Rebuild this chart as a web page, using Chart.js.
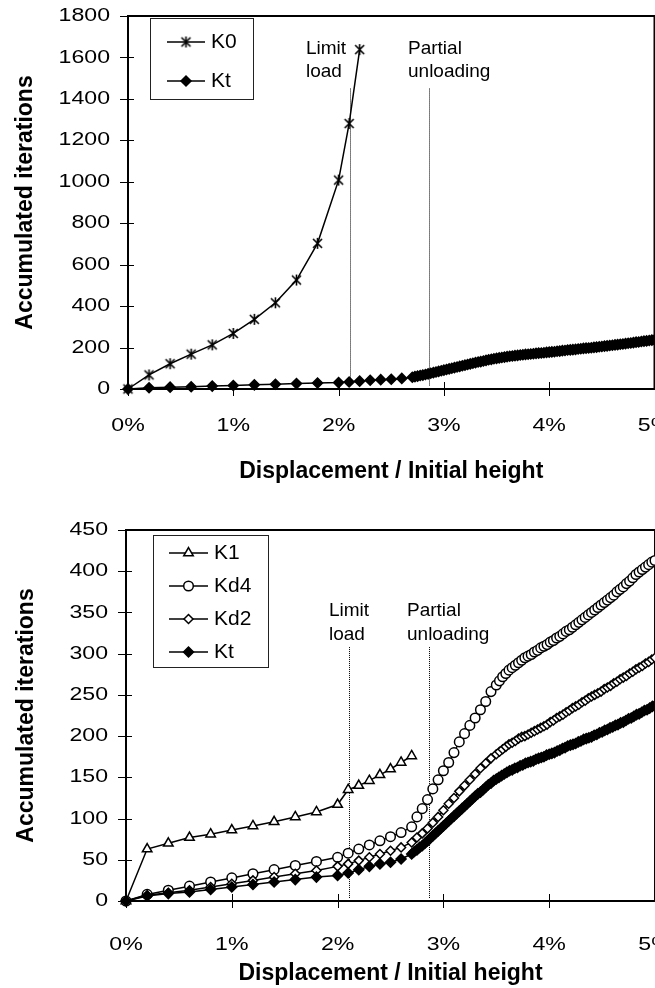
<!DOCTYPE html>
<html>
<head>
<meta charset="utf-8">
<script src="https://cdn.jsdelivr.net/npm/chart.js@4.4.1/dist/chart.umd.min.js"></script>
<style>
  html, body { margin: 0; padding: 0; background: #fff; overflow: hidden; }
  #wrap { position: relative; width: 655px; height: 988px; overflow: hidden; }
  #wrap canvas { position: absolute; left: 0; }
  #topChart { top: 0; }
  #bottomChart { top: 490px; }
</style>
</head>
<body>
<div id="wrap">
  <canvas id="topChart" width="662" height="490"></canvas>
  <canvas id="bottomChart" width="662" height="498"></canvas>
</div>
<script>
// x positions (displacement / initial height, in %)
const earlyX = [0, 0.2, 0.4, 0.6, 0.8, 1.0, 1.2, 1.4, 1.6, 1.8, 2.0, 2.1, 2.2, 2.3, 2.4, 2.5, 2.6, 2.7];
const midX = [2.75, 2.8, 2.85, 2.9, 2.95, 3.0, 3.05, 3.1, 3.15, 3.2, 3.25, 3.3, 3.35, 3.4, 3.45, 3.5];
const lateX = [3.53, 3.56, 3.59, 3.62, 3.65, 3.68, 3.71, 3.74, 3.77, 3.8,
               3.83, 3.86, 3.89, 3.92, 3.95, 3.98, 4.01, 4.04, 4.07, 4.1,
               4.13, 4.16, 4.19, 4.22, 4.25, 4.28, 4.31, 4.34, 4.37, 4.4,
               4.43, 4.46, 4.49, 4.52, 4.55, 4.58, 4.61, 4.64, 4.67, 4.7,
               4.73, 4.76, 4.79, 4.82, 4.85, 4.88, 4.91, 4.94, 4.97, 5.0];
const ktDenseX = [2.725, 2.75, 2.775, 2.8, 2.825, 2.85, 2.875, 2.9, 2.925, 2.95, 2.975, 3.0,
                  3.025, 3.05, 3.075, 3.1, 3.125, 3.15, 3.175, 3.2, 3.225, 3.25,
                  3.275, 3.3, 3.325, 3.35, 3.375, 3.4, 3.425, 3.45, 3.475, 3.5,
                  3.525, 3.55, 3.575, 3.6, 3.625, 3.65, 3.675, 3.7, 3.725, 3.75,
                  3.775, 3.8, 3.825, 3.85, 3.875, 3.9, 3.925, 3.95, 3.975, 4.0,
                  4.025, 4.05, 4.075, 4.1, 4.125, 4.15, 4.175, 4.2, 4.225, 4.25,
                  4.275, 4.3, 4.325, 4.35, 4.375, 4.4, 4.425, 4.45, 4.475, 4.5,
                  4.525, 4.55, 4.575, 4.6, 4.625, 4.65, 4.675, 4.7, 4.725, 4.75,
                  4.775, 4.8, 4.825, 4.85, 4.875, 4.9, 4.925, 4.95, 4.975, 5.0];
const k0X = [0, 0.2, 0.4, 0.6, 0.8, 1.0, 1.2, 1.4, 1.6, 1.8, 2.0, 2.1, 2.2];

// accumulated iterations
const k0Y = [0, 68, 122, 168, 213, 268, 336, 416, 526, 703, 1008, 1281, 1638];
const k1Y = [0, 63, 70, 77, 81, 86, 91, 96, 102, 108, 117, 135, 140, 146, 153, 160, 168, 176];
const kd4Y = [0, 8, 13, 18, 23, 28, 33, 38, 43, 48, 53, 58, 63, 68, 73, 78, 83, 90,
              102, 112, 123, 136, 147, 158, 168, 180, 193, 203, 213, 222, 232, 242, 254, 262,
              267, 272, 276, 280, 283, 286, 289, 292, 295, 297,
              299, 302, 304, 307, 309, 311, 314, 316, 319, 321,
              324, 327, 329, 332, 335, 338, 341, 344, 347, 350,
              353, 356, 359, 362, 365, 368, 371, 375, 378, 381,
              385, 388, 392, 396, 399, 402, 405, 408, 411, 413];
const kd2Y = [0, 7, 10, 13, 17, 21, 25, 29, 33, 37, 42, 45, 49, 53, 57, 61, 65, 71,
              77, 82, 88, 95, 102, 110, 118, 125, 133, 140, 147, 154, 161, 167, 173, 178,
              181, 184, 187, 190, 192, 194, 197, 199, 200, 202,
              204, 206, 208, 210, 212, 214, 217, 219, 222, 224,
              226, 229, 231, 234, 236, 238, 241, 243, 246, 248,
              250, 252, 254, 257, 259, 261, 264, 266, 269, 271,
              273, 276, 278, 281, 283, 285, 288, 290, 293, 295];
const ktY = [0, 6, 9, 11, 14, 17, 20, 23, 26, 29, 31, 34, 38, 42, 45, 47, 51, 57,
             60, 62, 65, 67, 70, 73, 76, 79, 82, 85, 88, 91,
             94, 97, 100, 103, 106, 109, 112, 115, 118, 121,
             124, 127, 130, 132, 135, 138, 141, 143, 146, 148,
             150, 152, 154, 156, 158, 159, 161, 162, 164, 165,
             167, 168, 169, 170, 172, 173, 174, 175, 177, 178,
             179, 180, 182, 183, 185, 186, 188, 189, 190, 191,
             193, 194, 196, 197, 198, 199, 201, 202, 204, 205,
             207, 208, 210, 211, 213, 214, 216, 217, 219, 221,
             222, 224, 226, 227, 229, 231, 232, 234, 236, 237];

// axis ticks
const xTickValues = [0, 1, 2, 3, 4, 5];
const topYTicks = [0, 200, 400, 600, 800, 1000, 1200, 1400, 1600, 1800];
const bottomYTicks = [0, 50, 100, 150, 200, 250, 300, 350, 400, 450];

// vertical markers: limit load, partial unloading
const markerX = [2.11, 2.86];

const TICK_FONT = '18.5px "Liberation Sans", Arial, sans-serif';
const TITLE_FONT = 'bold 23px "Liberation Sans", Arial, sans-serif';
const LEGEND_FONT = '21px "Liberation Sans", Arial, sans-serif';
const NOTE_FONT = '19px "Liberation Sans", Arial, sans-serif';
const TICK_STRETCH = 1.25; // tick labels in the original are drawn wide

function makeAsterisk() {
    var c = document.createElement('canvas');
    c.width = 13;
    c.height = 13;
    var g = c.getContext('2d');
    g.strokeStyle = '#000';
    g.lineWidth = 1.6;
    g.beginPath();
    g.moveTo(2, 2); g.lineTo(11, 11);
    g.moveTo(11, 2); g.lineTo(2, 11);
    g.moveTo(6.5, 1); g.lineTo(6.5, 12);
    g.stroke();
    return c;
}
const asterisk = makeAsterisk();

function series(label, xs, ys, shape, radius, fill, order) {
    return {
        label: label,
        data: xs.map(function (x, i) { return { x: x, y: ys[i] }; }),
        borderColor: '#000',
        borderWidth: 1.5,
        pointStyle: shape,
        pointRadius: radius,
        pointHoverRadius: radius,
        pointBackgroundColor: fill,
        pointBorderColor: '#000',
        pointBorderWidth: 1.5,
        tension: 0,
        clip: false,
        order: order
    };
}

function stretchText(ctx, text, x, y, align) {
    ctx.save();
    ctx.translate(x, y);
    ctx.scale(TICK_STRETCH, 1);
    ctx.textAlign = align;
    ctx.fillText(text, 0, 0);
    ctx.restore();
}

function decorPlugin(opts) {
    return {
        id: 'decor',
        beforeDatasetsDraw: function (chart) {
            var ctx = chart.ctx, a = chart.chartArea;
            var xs = chart.scales.x, ys = chart.scales.y;
            ctx.save();

            // dotted marker lines
            ctx.strokeStyle = '#000';
            ctx.lineWidth = 1;
            ctx.setLineDash([1, 1]);
            markerX.forEach(function (mx) {
                var px = Math.round(xs.getPixelForValue(mx)) + 0.5;
                ctx.beginPath();
                ctx.moveTo(px, ys.getPixelForValue(opts.markerTop));
                ctx.lineTo(px, a.bottom - 3);
                ctx.stroke();
            });
            ctx.setLineDash([]);

            // tick marks crossing the axes
            ctx.strokeStyle = '#000';
            ctx.lineWidth = 1;
            ctx.beginPath();
            xTickValues.forEach(function (v) {
                var px = Math.round(xs.getPixelForValue(v)) + 0.5;
                ctx.moveTo(px, a.bottom - 7);
                ctx.lineTo(px, a.bottom + 7);
            });
            opts.yTicks.forEach(function (v) {
                var py = Math.round(ys.getPixelForValue(v)) + 0.5;
                ctx.moveTo(a.left - 8, py);
                ctx.lineTo(a.left + 6, py);
            });
            ctx.stroke();

            // plot frame
            ctx.lineWidth = 2;
            ctx.strokeRect(a.left, a.top, a.right - a.left, a.bottom - a.top);
            ctx.restore();
        },
        afterDraw: function (chart) {
            var ctx = chart.ctx, a = chart.chartArea;
            var xs = chart.scales.x, ys = chart.scales.y;
            ctx.save();
            ctx.fillStyle = '#000';

            // tick labels
            ctx.font = TICK_FONT;
            ctx.textBaseline = 'middle';
            opts.yTicks.forEach(function (v) {
                stretchText(ctx, String(v), a.left - 18, ys.getPixelForValue(v), 'right');
            });
            ctx.textBaseline = 'alphabetic';
            xTickValues.forEach(function (v) {
                stretchText(ctx, v + '%', xs.getPixelForValue(v), a.bottom + opts.xLabelGap, 'center');
            });

            // axis titles
            ctx.font = TITLE_FONT;
            ctx.textAlign = 'center';
            ctx.fillText('Displacement / Initial height', (a.left + a.right) / 2, opts.xTitleY);
            ctx.save();
            ctx.translate(opts.yTitleX, (a.top + a.bottom) / 2);
            ctx.rotate(-Math.PI / 2);
            ctx.textBaseline = 'middle';
            ctx.fillText('Accumulated iterations', 0, 0);
            ctx.restore();

            // notes by the marker lines
            ctx.font = NOTE_FONT;
            ctx.textAlign = 'left';
            ctx.textBaseline = 'alphabetic';
            opts.notes.forEach(function (n) {
                ctx.fillText(n.text, n.x, n.y);
            });

            // legend
            var lg = opts.legend;
            ctx.fillStyle = '#fff';
            ctx.fillRect(lg.x, lg.y, lg.w, lg.h);
            ctx.strokeStyle = '#222';
            ctx.lineWidth = 1;
            ctx.strokeRect(lg.x + 0.5, lg.y + 0.5, lg.w, lg.h);
            ctx.font = LEGEND_FONT;
            ctx.textBaseline = 'middle';
            opts.legendOrder.forEach(function (idx, i) {
                var ds = chart.data.datasets[idx];
                var y = lg.firstY + i * lg.gap;
                ctx.strokeStyle = '#000';
                ctx.lineWidth = 1.5;
                ctx.beginPath();
                ctx.moveTo(lg.lineX0, y);
                ctx.lineTo(lg.lineX1, y);
                ctx.stroke();
                ctx.fillStyle = ds.pointBackgroundColor;
                Chart.helpers.drawPoint(ctx, {
                    pointStyle: ds.pointStyle,
                    radius: ds.pointRadius,
                    rotation: 0,
                    borderWidth: 1.5
                }, (lg.lineX0 + lg.lineX1) / 2, y);
                ctx.fillStyle = '#000';
                ctx.fillText(ds.label, lg.textX, y);
            });
            ctx.restore();
        }
    };
}

function baseOptions(yMax, padding) {
    return {
        responsive: false,
        animation: false,
        events: [],
        layout: { padding: padding },
        plugins: { legend: { display: false }, tooltip: { enabled: false } },
        scales: {
            x: { type: 'linear', min: 0, max: 5, display: false },
            y: { type: 'linear', min: 0, max: yMax, display: false }
        }
    };
}

const ktX = earlyX.concat(ktDenseX);
const kdX = earlyX.concat(midX, lateX);

// top chart: K0 and Kt
new Chart(document.getElementById('topChart'), {
    type: 'line',
    data: {
        datasets: [
            series('K0', k0X, k0Y, asterisk, 6, '#000', 1),
            series('Kt', ktX, ktY, 'rectRot', 5, '#000', 0)
        ]
    },
    options: baseOptions(1800, { left: 128, right: 2.5, top: 16, bottom: 101 }),
    plugins: [decorPlugin({
        yTicks: topYTicks,
        markerTop: 1450,
        xLabelGap: 42,
        xTitleY: 478,
        yTitleX: 26,
        notes: [
            { text: 'Limit', x: 306, y: 54 },
            { text: 'load', x: 306, y: 77 },
            { text: 'Partial', x: 408, y: 54 },
            { text: 'unloading', x: 408, y: 77 }
        ],
        legend: { x: 150, y: 18, w: 103, h: 81, firstY: 42, gap: 39, lineX0: 167, lineX1: 205, textX: 211 },
        legendOrder: [0, 1]
    })]
});

// bottom chart: K1, Kd4, Kd2, Kt
new Chart(document.getElementById('bottomChart'), {
    type: 'line',
    data: {
        datasets: [
            series('K1', earlyX, k1Y, 'triangle', 5.5, '#fff', 3),
            series('Kd4', kdX, kd4Y, 'circle', 4.8, '#fff', 2),
            series('Kd2', kdX, kd2Y, 'rectRot', 4.5, '#fff', 1),
            series('Kt', ktX, ktY, 'rectRot', 5, '#000', 0)
        ]
    },
    options: baseOptions(450, { left: 126, right: 3.5, top: 40, bottom: 87 }),
    plugins: [decorPlugin({
        yTicks: bottomYTicks,
        markerTop: 308,
        xLabelGap: 49,
        xTitleY: 490,
        yTitleX: 27,
        notes: [
            { text: 'Limit', x: 329, y: 126 },
            { text: 'load', x: 329, y: 150 },
            { text: 'Partial', x: 407, y: 126 },
            { text: 'unloading', x: 407, y: 150 }
        ],
        legend: { x: 153, y: 45, w: 115, h: 132, firstY: 63, gap: 33, lineX0: 169, lineX1: 208, textX: 214 },
        legendOrder: [0, 1, 2, 3]
    })]
});
</script>
</body>
</html>
